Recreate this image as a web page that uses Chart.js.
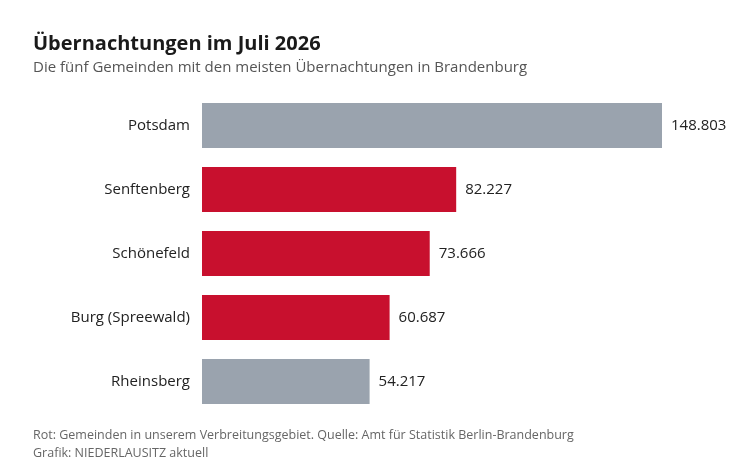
<!DOCTYPE html>
<html><head><meta charset="utf-8">
<script src="https://cdn.jsdelivr.net/npm/chart.js@4/dist/chart.umd.min.js"></script>
<style>html,body{margin:0;padding:0;background:#fff}#c{display:block}</style>
</head><body>
<div style="width:750px;height:469px"><canvas id="c"></canvas></div>
<script>
const categories = ["Potsdam","Senftenberg","Schönefeld","Burg (Spreewald)","Rheinsberg"];
const values = [148803, 82227, 73666, 60687, 54217];
const highlighted = [false, true, true, true, false];
const valueLabels = ["148.803","82.227","73.666","60.687","54.217"];
const F = '"Open Sans", "Noto Sans", sans-serif';
const textPlugin = {
  id:'texts',
  afterDraw(chart){
    const ctx = chart.ctx, x = chart.scales.x, y = chart.scales.y;
    ctx.save();
    ctx.fillStyle='#1a1a1a'; ctx.font='bold 20px '+F; ctx.textBaseline='middle'; ctx.textAlign='left';
    ctx.fillText('Übernachtungen im Juli 2026',33,44);
    ctx.fillStyle='#555'; ctx.font='15px '+F;
    ctx.fillText('Die fünf Gemeinden mit den meisten Übernachtungen in Brandenburg',33,68);
    ctx.font='12.5px '+F; ctx.fillStyle='#666';
    ctx.fillText('Rot: Gemeinden in unserem Verbreitungsgebiet. Quelle: Amt für Statistik Berlin-Brandenburg',33,435);
    ctx.fillText('Grafik: NIEDERLAUSITZ aktuell',33,453);
    ctx.font='15px '+F; ctx.fillStyle='#222';
    const meta = chart.getDatasetMeta(0);
    categories.forEach((c,i)=>{
      const yy = y.getPixelForValue(i);
      ctx.textAlign='right'; ctx.fillText(c,190,yy);
      ctx.textAlign='left'; ctx.fillText(valueLabels[i], meta.data[i].x+9, yy);
    });
    ctx.restore();
  }
};
new Chart(document.getElementById('c'),{
  type:'bar',
  data:{labels:categories,datasets:[{data:values,
    backgroundColor:highlighted.map(h=>h?'#c8102e':'#9aa3ae'),
    barPercentage:0.703,categoryPercentage:1}]},
  options:{indexAxis:'y',responsive:true,maintainAspectRatio:false,animation:false,
    layout:{padding:{left:202,right:88,top:93.5,bottom:55.5}},
    plugins:{legend:{display:false},tooltip:{enabled:false}},
    scales:{x:{display:false,min:0,max:148803},y:{display:false}}},
  plugins:[textPlugin]
});
</script>
</body></html>
